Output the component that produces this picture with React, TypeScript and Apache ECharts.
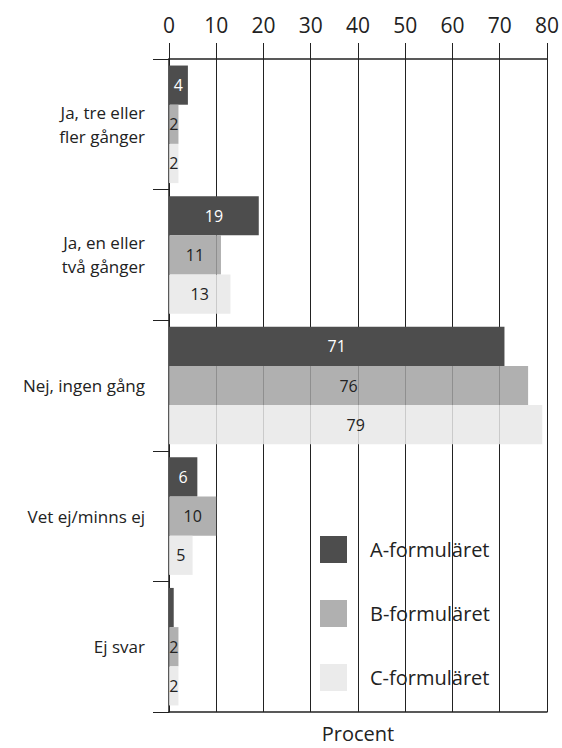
import React, { useEffect, useRef } from "react";
import * as echarts from "echarts";

const categories = ["Ja, tre eller\nfler gånger", "Ja, en eller\ntvå gånger", "Nej, ingen gång", "Vet ej/minns ej", "Ej svar"];
const seriesNames = ["A-formuläret", "B-formuläret", "C-formuläret"];
const valuesA = [4, 19, 71, 6, 1];
const valuesB = [2, 11, 76, 10, 2];
const valuesC = [2, 13, 79, 5, 2];
const xTicks = [0, 10, 20, 30, 40, 50, 60, 70, 80];
const hiddenLabelBelow = 2;

const FONT = "Open Sans";

export default function App() {
  const ref = useRef<HTMLDivElement>(null);
  useEffect(() => {
    document.body.style.margin = "0";
    const chart = echarts.init(ref.current!, null, { renderer: "svg" });
    const colors = ["#4d4d4d", "rgba(162,162,162,0.85)", "rgba(232,232,232,0.85)"];
    const labelColors = ["#ffffff", "#222222", "#222222"];
    const all = [valuesA, valuesB, valuesC];
    chart.setOption({
      animation: false,
      textStyle: { fontFamily: FONT },
      grid: { left: 169, width: 378, top: 59, height: 657, containLabel: false },
      legend: {
        orient: "vertical",
        left: 315,
        top: 531,
        itemWidth: 27,
        itemHeight: 27,
        itemGap: 37,
        icon: "rect",
        textStyle: { fontSize: 20, color: "#222", fontFamily: FONT, padding: [0, 0, 0, 18] },
        data: seriesNames.map((n, i) => ({ name: n, itemStyle: { color: colors[i] } })),
      },
      xAxis: [
        {
          type: "value",
          position: "top",
          min: xTicks[0],
          max: xTicks[xTicks.length - 1],
          interval: 10,
          axisLine: { show: true, lineStyle: { color: "#222", width: 1.5 } },
          axisTick: { show: true, length: 16, inside: false, lineStyle: { color: "#222" } },
          axisLabel: { fontSize: 21, color: "#222", margin: 24, fontFamily: FONT },
          splitLine: { show: true, lineStyle: { color: "#222", width: 1 } },
        },
        {
          type: "value",
          position: "bottom",
          min: xTicks[0],
          max: xTicks[xTicks.length - 1],
          interval: 10,
          axisLine: { show: true, lineStyle: { color: "#222", width: 1.5 } },
          axisTick: { show: false },
          axisLabel: { show: false },
          splitLine: { show: false },
          name: "Procent",
          nameLocation: "middle",
          nameGap: 11,
          nameTextStyle: { fontSize: 20, color: "#222", fontFamily: FONT, verticalAlign: "top" },
        },
      ],
      yAxis: {
        type: "category",
        inverse: true,
        data: categories,
        axisLine: { show: true, lineStyle: { color: "#222", width: 1.5 } },
        axisTick: { show: true, length: 16, interval: 0, lineStyle: { color: "#222" } },
        axisLabel: { fontSize: 17, color: "#222", margin: 24, lineHeight: 24, align: "right", fontFamily: FONT },
      },
      series: all.map((vals, i) => ({
        type: "bar",
        name: seriesNames[i],
        xAxisIndex: 0,
        barGap: "0%",
        barCategoryGap: "10%",
        itemStyle: { color: colors[i] },
        label: {
          show: true,
          position: "inside",
          color: labelColors[i],
          fontSize: 16,
          fontFamily: FONT,
        },
        data: vals.map((v) => (v < hiddenLabelBelow ? { value: v, label: { show: false } } : v)),
      })),
    });
    return () => chart.dispose();
  }, []);
  return <div ref={ref} style={{ width: 562, height: 748 }} />;
}
